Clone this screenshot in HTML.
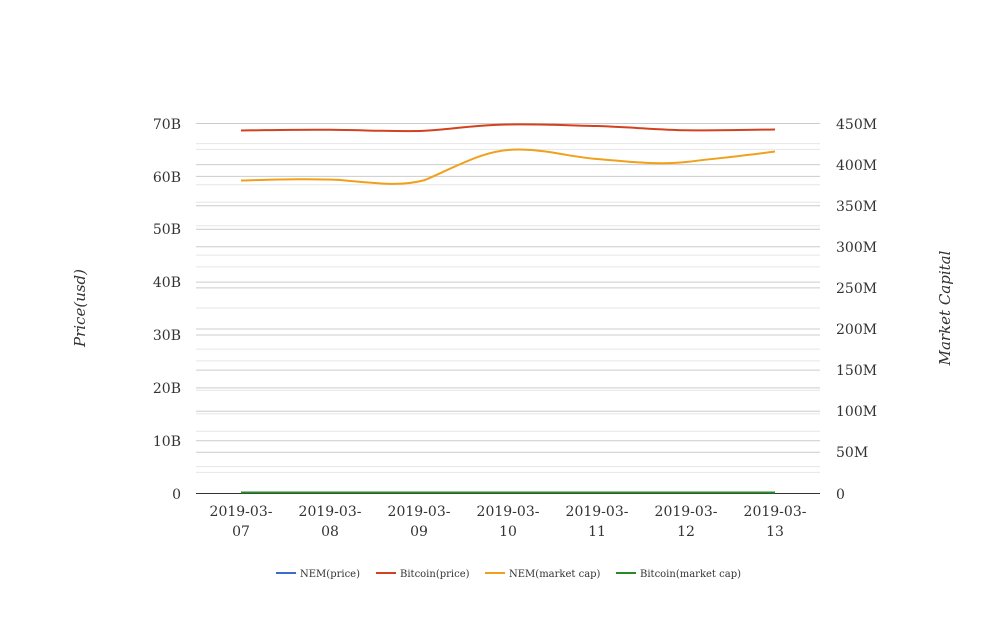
<!DOCTYPE html>
<html><head><meta charset="utf-8"><style>
body{margin:0;background:#fff}
svg text{font-family:"DejaVu Serif","Liberation Serif",serif;fill:#333}
</style></head><body>
<svg width="1008" height="616" xmlns="http://www.w3.org/2000/svg">
<g stroke="#e6e6e6" stroke-width="1">
<line x1="196" x2="820" y1="149.4" y2="149.4"/><line x1="196" x2="820" y1="202.3" y2="202.3"/><line x1="196" x2="820" y1="255.1" y2="255.1"/><line x1="196" x2="820" y1="308" y2="308"/><line x1="196" x2="820" y1="360.9" y2="360.9"/><line x1="196" x2="820" y1="413.7" y2="413.7"/><line x1="196" x2="820" y1="466.6" y2="466.6"/>
<line x1="196" x2="820" y1="143.6" y2="143.6"/><line x1="196" x2="820" y1="184.7" y2="184.7"/><line x1="196" x2="820" y1="225.8" y2="225.8"/><line x1="196" x2="820" y1="266.9" y2="266.9"/><line x1="196" x2="820" y1="308" y2="308"/><line x1="196" x2="820" y1="349.1" y2="349.1"/><line x1="196" x2="820" y1="390.2" y2="390.2"/><line x1="196" x2="820" y1="431.3" y2="431.3"/><line x1="196" x2="820" y1="472.4" y2="472.4"/>
</g>
<g stroke="#cccccc" stroke-width="1">
<line x1="196" x2="820" y1="123.5" y2="123.5"/><line x1="196" x2="820" y1="176.4" y2="176.4"/><line x1="196" x2="820" y1="229.3" y2="229.3"/><line x1="196" x2="820" y1="282.1" y2="282.1"/><line x1="196" x2="820" y1="335" y2="335"/><line x1="196" x2="820" y1="387.9" y2="387.9"/><line x1="196" x2="820" y1="440.7" y2="440.7"/>
<line x1="196" x2="820" y1="164.6" y2="164.6"/><line x1="196" x2="820" y1="205.7" y2="205.7"/><line x1="196" x2="820" y1="246.8" y2="246.8"/><line x1="196" x2="820" y1="287.9" y2="287.9"/><line x1="196" x2="820" y1="329" y2="329"/><line x1="196" x2="820" y1="370.1" y2="370.1"/><line x1="196" x2="820" y1="411.2" y2="411.2"/><line x1="196" x2="820" y1="452.3" y2="452.3"/>
</g>
<line x1="196" x2="820" y1="493.5" y2="493.5" stroke="#333"/>
<g font-size="14" text-anchor="end">
<text x="181" y="129">70B</text><text x="181" y="182">60B</text><text x="181" y="234">50B</text><text x="181" y="287">40B</text><text x="181" y="340">30B</text><text x="181" y="393">20B</text><text x="181" y="446">10B</text><text x="181" y="499">0</text>
</g>
<g font-size="14">
<text x="836" y="129">450M</text><text x="836" y="170">400M</text><text x="836" y="211">350M</text><text x="836" y="252">300M</text><text x="836" y="293">250M</text><text x="836" y="334">200M</text><text x="836" y="375">150M</text><text x="836" y="416">100M</text><text x="836" y="457">50M</text><text x="836" y="499">0</text>
</g>
<g font-size="14" text-anchor="middle">
<text x="241" y="516">2019-03-</text><text x="241" y="536">07</text>
<text x="330" y="516">2019-03-</text><text x="330" y="536">08</text>
<text x="419" y="516">2019-03-</text><text x="419" y="536">09</text>
<text x="508" y="516">2019-03-</text><text x="508" y="536">10</text>
<text x="597" y="516">2019-03-</text><text x="597" y="536">11</text>
<text x="686" y="516">2019-03-</text><text x="686" y="536">12</text>
<text x="775" y="516">2019-03-</text><text x="775" y="536">13</text>
</g>
<text font-size="15" font-style="italic" text-anchor="middle" transform="translate(85,308) rotate(-90)">Price(usd)</text>
<text font-size="15" font-style="italic" text-anchor="middle" transform="translate(950,308) rotate(-90)">Market Capital</text>
<path d="M241,130.5 C280,130 300,129.5 330,129.8 C360,130 390,131.5 419,131 C450,130 470,125 508,124.5 C545,124 570,125.5 597,126 C630,127 660,130 686,130.3 C715,130.5 745,129.8 775,129.5" fill="none" stroke="#d2421f" stroke-width="2"/>
<path d="M241,180.5 C280,179.5 310,178.5 340,180 C375,183 400,187 425,180 C460,165 485,149 520,149.5 C550,150 570,157 597,159 C630,162 660,165 686,162 C720,158 750,155 775,151.5" fill="none" stroke="#f0a01a" stroke-width="2"/>
<line x1="241" x2="775" y1="492.5" y2="492.5" stroke="#2a8a2a" stroke-width="2"/>
<g font-size="10">
<line x1="276" x2="296" y1="573" y2="573" stroke="#3d6cc4" stroke-width="2"/><text x="300" y="577">NEM(price)</text>
<line x1="376" x2="396" y1="573" y2="573" stroke="#d2421f" stroke-width="2"/><text x="400" y="577">Bitcoin(price)</text>
<line x1="485" x2="505" y1="573" y2="573" stroke="#f0a01a" stroke-width="2"/><text x="509" y="577">NEM(market cap)</text>
<line x1="616" x2="636" y1="573" y2="573" stroke="#2a8a2a" stroke-width="2"/><text x="640" y="577">Bitcoin(market cap)</text>
</g>
</svg>
</body></html>
